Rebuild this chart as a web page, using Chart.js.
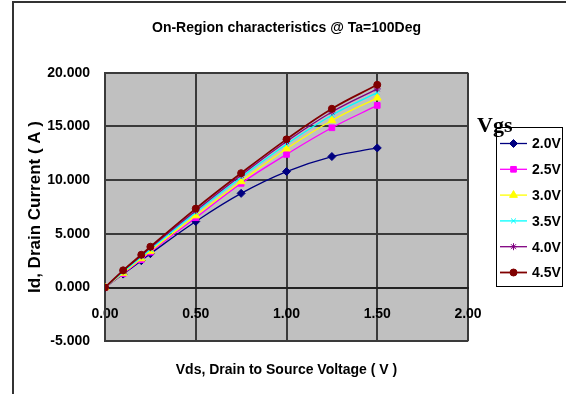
<!DOCTYPE html>
<html>
<head>
<meta charset="utf-8">
<script src="https://cdn.jsdelivr.net/npm/chart.js@4/dist/chart.umd.min.js"></script>
<style>
  html, body { margin: 0; padding: 0; background: #fff; }
  #wrap { width: 566px; height: 394px; }
</style>
</head>
<body>
<div id="wrap"><canvas id="c" width="566" height="394"></canvas></div>
<script>
var FONT = "'Liberation Sans Narrow', 'Liberation Sans', Arial, sans-serif";

// Vds steps (V)
var vds = [0, 0.1, 0.2, 0.25, 0.5, 0.75, 1.0, 1.25, 1.5];
// Id (A) for each Vgs
var vgsLabels = ['2.0V', '2.5V', '3.0V', '3.5V', '4.0V', '4.5V'];
var id20 = [0, 1.25, 2.50, 3.15, 6.15, 8.77, 10.80, 12.20, 13.00];
var id25 = [0, 1.30, 2.60, 3.30, 6.50, 9.70, 12.40, 14.88, 16.96];
var id30 = [0, 1.35, 2.70, 3.40, 6.70, 9.88, 12.93, 15.56, 17.67];
var id35 = [0, 1.45, 2.85, 3.55, 7.00, 10.25, 13.35, 16.05, 18.15];
var id40 = [0, 1.55, 2.95, 3.70, 7.15, 10.45, 13.60, 16.35, 18.50];
var id45 = [0, 1.60, 3.05, 3.80, 7.35, 10.65, 13.80, 16.65, 18.88];
var xTicks = [0, 0.5, 1.0, 1.5, 2.0];
var yTicks = [-5, 0, 5, 10, 15, 20];

var seriesValues = [id20, id25, id30, id35, id40, id45];
var colors = ['#000080', '#FF00FF', '#FFFF00', '#00FFFF', '#800080', '#800000'];
var markers = ['rectRot', 'rect', 'triangle', 'crossRot', 'star', 'circle'];
var radii = [4, 4, 4.5, 3.5, 3.5, 3.5];

function pts(vals) {
  return vals.map(function(v, i) { return { x: vds[i], y: v }; });
}

var datasets = seriesValues.map(function(vals, i) {
  return {
    label: vgsLabels[i],
    data: pts(vals),
    borderColor: colors[i],
    backgroundColor: colors[i],
    pointBackgroundColor: colors[i],
    pointBorderColor: colors[i],
    pointStyle: markers[i],
    pointRadius: radii[i],
    pointBorderWidth: 1,
    borderWidth: i == 5 ? 1.8 : 1.3,
    tension: 0.4,
    fill: false,
    order: 6 - i
  };
});

// plot background + outer frame
var frame = {
  id: 'frame',
  beforeDraw: function(chart) {
    var ctx = chart.ctx, a = chart.chartArea;
    ctx.save();
    ctx.fillStyle = '#C0C0C0';
    ctx.fillRect(a.left, a.top, a.right - a.left, a.bottom - a.top);
    ctx.strokeStyle = '#333';
    ctx.lineWidth = 2;
    ctx.beginPath();
    ctx.moveTo(13, 394);
    ctx.lineTo(13, 2);
    ctx.lineTo(566, 2);
    ctx.stroke();
    ctx.restore();
  }
};

// Excel-like legend box with line + marker samples
var vgsLegend = {
  id: 'vgsLegend',
  afterDraw: function(chart) {
    var ctx = chart.ctx;
    var bx = 496, by = 127, bw = 66, bh = 159, row = 25.8;
    ctx.save();
    ctx.fillStyle = '#fff';
    ctx.fillRect(bx, by, bw, bh);
    ctx.strokeStyle = '#000';
    ctx.lineWidth = 1;
    ctx.strokeRect(bx + 0.5, by + 0.5, bw, bh);
    chart.data.datasets.forEach(function(ds, i) {
      var y = 143.5 + i * row;
      ctx.strokeStyle = ds.borderColor;
      ctx.lineWidth = ds.borderWidth;
      ctx.beginPath();
      ctx.moveTo(500, y);
      ctx.lineTo(527, y);
      ctx.stroke();
      ctx.fillStyle = ds.borderColor;
      ctx.lineWidth = 1;
      if (Chart.helpers && Chart.helpers.drawPoint) {
        Chart.helpers.drawPoint(ctx, { pointStyle: ds.pointStyle, radius: ds.pointRadius, rotation: 0, borderWidth: 1 }, 513.5, y);
      }
      ctx.fillStyle = '#000';
      ctx.font = 'bold 14px ' + FONT;
      ctx.textAlign = 'left';
      ctx.textBaseline = 'middle';
      ctx.fillText(ds.label, 532, y + 1);
    });
    ctx.fillStyle = '#000';
    ctx.font = 'bold 22px "Liberation Serif", "Times New Roman", serif';
    ctx.textAlign = 'left';
    ctx.textBaseline = 'alphabetic';
    ctx.fillText('Vgs', 477, 132);
    ctx.restore();
  }
};

new Chart(document.getElementById('c'), {
  type: 'line',
  data: { datasets: datasets },
  plugins: [frame, vgsLegend],
  options: {
    responsive: false,
    animation: false,
    layout: { padding: { left: 0, right: 98, top: 0, bottom: 0 } },
    plugins: {
      legend: { display: false },
      tooltip: { enabled: false },
      title: {
        display: true,
        fullSize: false,
        text: 'On-Region characteristics @ Ta=100Deg',
        color: '#000',
        font: { family: FONT, size: 14, weight: 'bold' },
        padding: { top: 20, bottom: 36 }
      },
      subtitle: {
        display: true,
        fullSize: false,
        position: 'bottom',
        text: 'Vds, Drain to Source Voltage ( V )',
        color: '#000',
        font: { family: FONT, size: 14, weight: 'bold' },
        padding: { top: 21, bottom: 15 }
      }
    },
    scales: {
      x: {
        type: 'linear',
        position: { y: 0 },
        min: 0,
        max: 2,
        afterBuildTicks: function(s) { s.ticks = xTicks.map(function(v) { return { value: v }; }); },
        ticks: {
          color: '#000',
          font: { family: FONT, size: 14, weight: 'bold' },
          padding: 18,
          maxRotation: 0,
          callback: function(v) { return Number(v).toFixed(2); }
        },
        grid: { color: '#3a3a3a', lineWidth: 2, drawTicks: false },
        border: { color: '#222', width: 2 }
      },
      y: {
        type: 'linear',
        min: -5,
        max: 20,
        afterFit: function(s) { s.width = 105; },
        afterBuildTicks: function(s) { s.ticks = yTicks.map(function(v) { return { value: v }; }); },
        ticks: {
          color: '#000',
          font: { family: FONT, size: 14, weight: 'bold' },
          padding: 15,
          callback: function(v) { return Number(v).toFixed(3); }
        },
        grid: { color: '#3a3a3a', lineWidth: 2, drawTicks: false },
        border: { color: '#3a3a3a', width: 2 },
        title: {
          display: true,
          text: 'Id, Drain Current ( A )',
          color: '#000',
          font: { family: FONT, size: 17, weight: 'bold' },
          padding: { top: 25 }
        }
      }
    }
  }
});
</script>
</body>
</html>
